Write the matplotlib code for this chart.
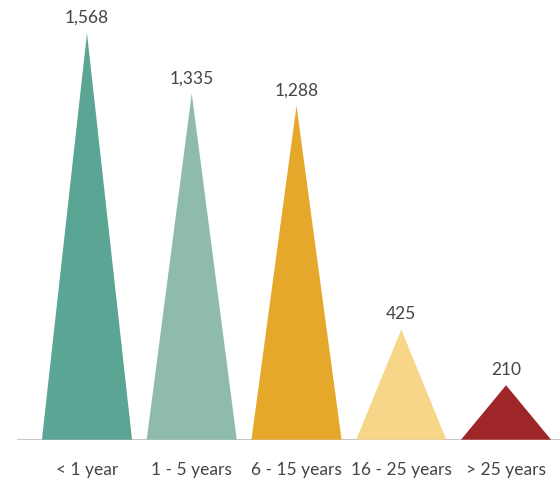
"""Pictorial triangle chart of counts by tenure band."""

import matplotlib.pyplot as plt
from matplotlib.patches import Polygon

# --------------------------------------------------
# data
# --------------------------------------------------
categories = ["< 1 year", "1 - 5 years", "6 - 15 years", "16 - 25 years", "> 25 years"]
values = [1568, 1335, 1288, 425, 210]
colors = ["#5ba594", "#8fbaae", "#e6a82a", "#f7d68a", "#9e2629"]

# --------------------------------------------------
# figure setup
# --------------------------------------------------
plt.rcParams["font.family"] = ["Lato", "DejaVu Sans"]

fig = plt.figure(figsize=(5.6, 4.85), dpi=100)
ax = fig.add_axes([17 / 560, 1 - 440.7 / 485, 1 - 17 / 560, 440.7 / 485])

half_width = 0.43  # half of each triangle's base, in category units

for i, (val, col) in enumerate(zip(values, colors)):
    tri = Polygon([(i - half_width, 0), (i, val), (i + half_width, 0)],
                  closed=True, facecolor=col, edgecolor="none")
    ax.add_patch(tri)
    ax.annotate(f"{val:,}", xy=(i, val), xytext=(0, 6), textcoords="offset points",
                ha="center", va="bottom", fontsize=12.5, color="#444444")

# baseline
ax.axhline(0, color="#c8c8c8", lw=1.5, zorder=0)

ax.set_xlim(-0.668, 4.515)
ax.set_ylim(0, 1700)
ax.set_xticks(range(len(categories)))
ax.set_xticklabels(categories, fontsize=12.5, color="#444444")
ax.tick_params(axis="x", length=0, pad=15)
ax.set_yticks([])
for side in ax.spines.values():
    side.set_visible(False)

fig.savefig("out.png", dpi=100)
